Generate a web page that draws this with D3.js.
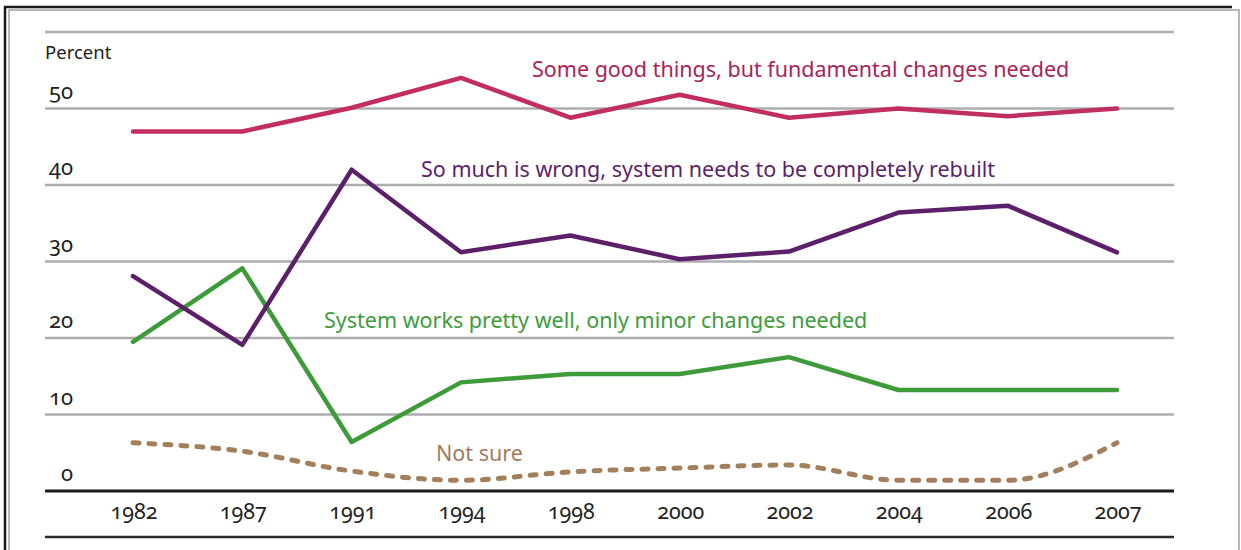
<!DOCTYPE html>
<html>
<head>
<meta charset="utf-8">
<script src="https://cdn.jsdelivr.net/npm/d3@7"></script>
<style>
  html, body { margin: 0; padding: 0; background: #fff; }
  svg { display: block; font-family: "Noto Sans", Lato, sans-serif; }
  .num { font-feature-settings: "onum" 1; font-variant-numeric: oldstyle-nums; }
</style>
</head>
<body>
<svg id="chart" width="1241" height="550"></svg>
<script>
const years = ["1982","1987","1991","1994","1998","2000","2002","2004","2006","2007"];
const fundamental = [47, 47, 50.1, 54, 48.8, 51.8, 48.8, 50, 49, 50];
const rebuilt = [28.1, 19.1, 42, 31.2, 33.4, 30.3, 31.3, 36.4, 37.3, 31.2];
const minor = [19.5, 29.1, 6.4, 14.2, 15.3, 15.3, 17.5, 13.2, 13.2, 13.2];
const notSure = [6.3, 5.2, 2.6, 1.4, 2.5, 3.0, 3.4, 1.4, 1.4, 6.3];
const yTicks = [0, 10, 20, 30, 40, 50];
const seriesNames = ["Some good things, but fundamental changes needed",
  "So much is wrong, system needs to be completely rebuilt",
  "System works pretty well, only minor changes needed",
  "Not sure"];

const svg = d3.select("#chart");

// frame
svg.append("line").attr("x1", 4).attr("x2", 1232).attr("y1", 7).attr("y2", 7).attr("stroke", "#1a1a1a").attr("stroke-width", 2.5);
svg.append("line").attr("x1", 5).attr("x2", 5).attr("y1", 6).attr("y2", 550).attr("stroke", "#1a1a1a").attr("stroke-width", 2.5);
svg.append("rect").attr("x", 9).attr("y", 10).attr("width", 1230).attr("height", 560).attr("fill", "none").attr("stroke", "#8a8a8a").attr("stroke-width", 1.2);

const left = 45, right = 1174;
const x = d3.scalePoint().domain(years).range([133, 1117]);
const y = d3.scaleLinear().domain([0, 60]).range([491, 32]);

// gridlines
svg.append("g").selectAll("line").data([10,20,30,40,50,60]).join("line")
  .attr("x1", left).attr("x2", right)
  .attr("y1", d => y(d)).attr("y2", d => y(d))
  .attr("stroke", "#adadaf").attr("stroke-width", 2.5);

// baseline and bottom rule
svg.append("line").attr("x1", left).attr("x2", right).attr("y1", y(0)).attr("y2", y(0)).attr("stroke", "#1a1a1a").attr("stroke-width", 3);
svg.append("line").attr("x1", left).attr("x2", right).attr("y1", 537).attr("y2", 537).attr("stroke", "#2a2a2a").attr("stroke-width", 2.5);

// y tick labels
svg.append("g").attr("class", "num").selectAll("text").data(yTicks).join("text")
  .attr("x", 73).attr("y", d => y(d) - 10)
  .attr("text-anchor", "end")
  .attr("font-size", 22).attr("fill", "#222")
  .text(d => d);
svg.append("text").attr("x", 45).attr("y", 59).attr("font-size", 18.5).attr("fill", "#222").text("Percent");

// x tick labels
svg.append("g").attr("class", "num").selectAll("text").data(years).join("text")
  .attr("x", d => x(d) + 1).attr("y", 519)
  .attr("text-anchor", "middle")
  .attr("font-size", 21.5).attr("fill", "#222")
  .text(d => d);

const line = d3.line().x((d, i) => x(years[i])).y(d => y(d));
const smooth = d3.line().x((d, i) => x(years[i])).y(d => y(d)).curve(d3.curveMonotoneX);

svg.append("path").datum(notSure).attr("d", smooth).attr("fill", "none")
  .attr("stroke", "#a37f5c").attr("stroke-width", 5).attr("stroke-linecap", "round")
  .attr("stroke-dasharray", "6,10");
svg.append("path").datum(minor).attr("d", line).attr("fill", "none")
  .attr("stroke", "#3e9b3a").attr("stroke-width", 4.5).attr("stroke-linecap", "round").attr("stroke-linejoin", "round");
svg.append("path").datum(rebuilt).attr("d", line).attr("fill", "none")
  .attr("stroke", "#5c1f6a").attr("stroke-width", 4.5).attr("stroke-linecap", "round").attr("stroke-linejoin", "round");
svg.append("path").datum(fundamental).attr("d", line).attr("fill", "none")
  .attr("stroke", "#c22e5d").attr("stroke-width", 4.5).attr("stroke-linecap", "round").attr("stroke-linejoin", "round");

// series labels
const labels = [
  {t: seriesNames[0], x: 532, y: 77, c: "#a8245a"},
  {t: seriesNames[1], x: 421, y: 177, c: "#5c1f6a"},
  {t: seriesNames[2], x: 324, y: 328, c: "#3e9b3a"},
  {t: seriesNames[3], x: 436, y: 461, c: "#9f7c5b"}
];
svg.append("g").selectAll("text").data(labels).join("text")
  .attr("x", d => d.x).attr("y", d => d.y)
  .attr("font-size", 21.5).attr("fill", d => d.c)
  .text(d => d.t);
</script>
</body>
</html>
